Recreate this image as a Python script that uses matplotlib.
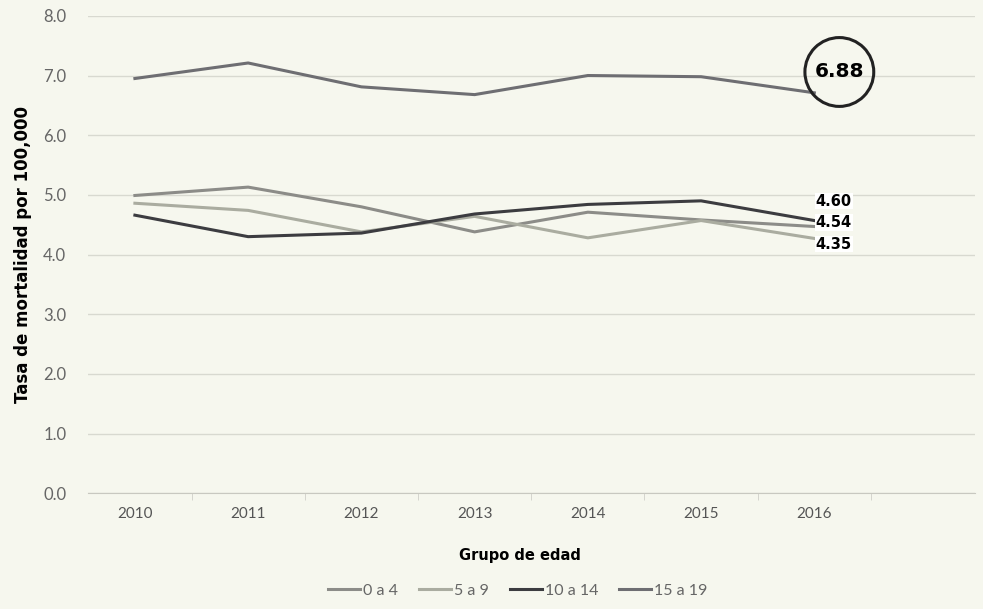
import matplotlib.pyplot as plt

# Data
years = ['2010', '2011', '2012', '2013', '2014', '2015', '2016']
grupo_0a4 = [4.99, 5.13, 4.80, 4.38, 4.71, 4.58, 4.47]
grupo_5a9 = [4.86, 4.74, 4.38, 4.64, 4.28, 4.57, 4.27]
grupo_10a14 = [4.66, 4.30, 4.36, 4.68, 4.84, 4.90, 4.57]
grupo_15a19 = [6.95, 7.21, 6.81, 6.68, 7.00, 6.98, 6.71]
end_labels = ['4.60', '4.54', '4.35']
highlight = '6.88'

bg = '#f6f7ee'
plt.rcParams['font.family'] = ['Lato', 'DejaVu Sans']

fig = plt.figure(figsize=(9.83, 6.09), dpi=100, facecolor=bg)
ax = fig.add_axes([0.09, 0.19, 0.902, 0.784], facecolor=bg)

x = range(len(years))
ax.plot(x, grupo_0a4, color='#8c8c88', lw=2.2, label='0 a 4')
ax.plot(x, grupo_5a9, color='#aaaca0', lw=2.2, label='5 a 9')
ax.plot(x, grupo_10a14, color='#3c3c40', lw=2.2, label='10 a 14')
ax.plot(x, grupo_15a19, color='#6e6e72', lw=2.2, label='15 a 19')

ax.set_xlim(-0.41, 7.42)
ax.set_ylim(0, 8)
ax.set_yticks([i for i in range(9)])
ax.set_yticklabels(['%.1f' % i for i in range(9)])
ax.set_xticks(list(x))
ax.set_xticklabels(years)
ax.set_xticks([i + 0.5 for i in x], minor=True)
ax.tick_params(axis='x', which='major', length=0, pad=10, labelsize=11, colors='#555555')
ax.tick_params(axis='x', which='minor', length=5, color='#cfcfc8')
ax.tick_params(axis='y', length=0, pad=16, labelsize=12, colors='#666666')
ax.grid(axis='y', color='#d8d9d0', lw=1)
ax.set_axisbelow(True)
for s in ['top', 'right', 'left']:
    ax.spines[s].set_visible(False)
ax.spines['bottom'].set_color('#c8c8c0')

ax.set_ylabel('Tasa de mortalidad por 100,000', fontsize=12, fontweight='bold',
              family='DejaVu Sans', labelpad=8)
ax.set_xlabel('Grupo de edad', fontsize=10.5, fontweight='bold', family='DejaVu Sans')
ax.xaxis.set_label_coords(0.487, -0.115)

# end-of-line labels
ends = [grupo_10a14[-1], grupo_0a4[-1], grupo_5a9[-1]]
offsets = [14, 3, -4]
for txt, yv, off in zip(end_labels, ends, offsets):
    ax.annotate(txt, xy=(6, yv), xytext=(1, off), textcoords='offset points',
                ha='left', va='center', fontsize=10.5, fontweight='bold',
                family='DejaVu Sans',
                bbox=dict(facecolor='white', edgecolor='none', pad=0.5))

ax.annotate(highlight, xy=(6, grupo_15a19[-1]), xytext=(18, 15), textcoords='offset points',
            ha='center', va='center', fontsize=14.5, fontweight='bold', family='DejaVu Sans',
            bbox=dict(boxstyle='circle,pad=0.48', facecolor='none', edgecolor='#222222', lw=2.2))

fig.legend(loc='center', bbox_to_anchor=(0.527, 0.03), ncol=4, frameon=False,
           fontsize=11.5, handlelength=2.0, handletextpad=0.2, columnspacing=1.3,
           labelcolor='#666666')

fig.savefig('out.png', dpi=100, facecolor=bg)
